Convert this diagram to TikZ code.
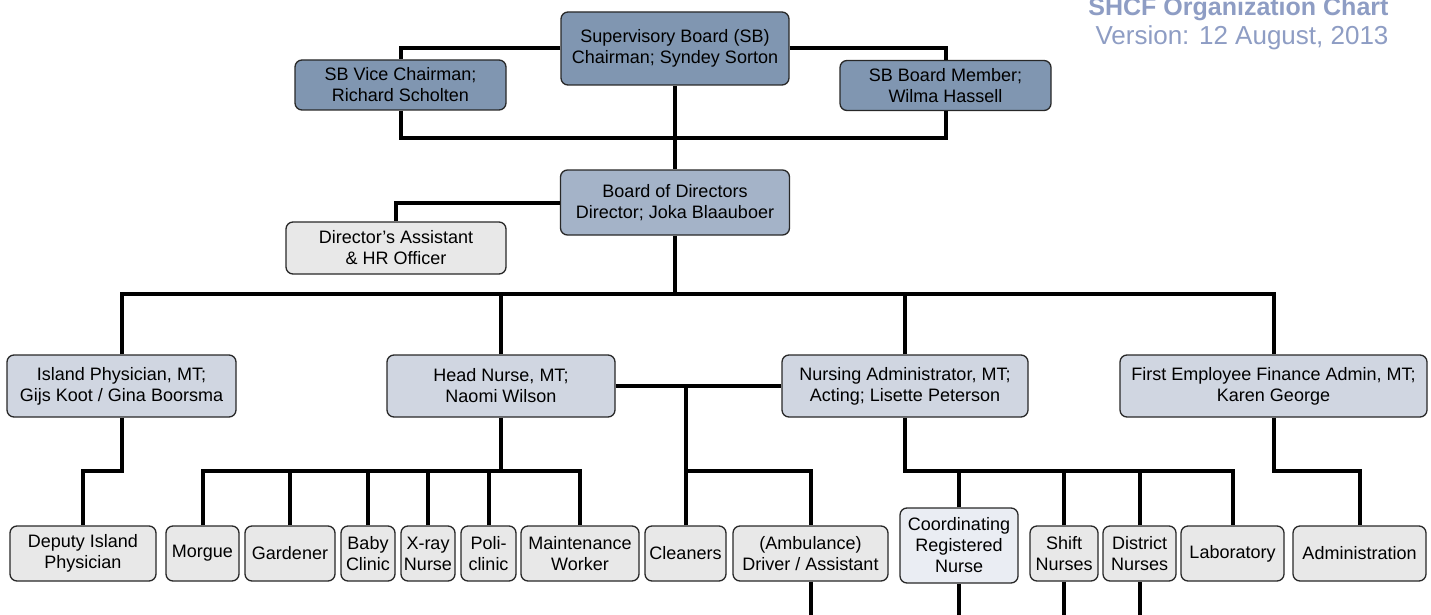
\documentclass[tikz,border=0pt]{standalone}
\usepackage{fontspec}
\setmainfont{Liberation Sans}
\usepackage{tikz}

\definecolor{sbblue}{RGB}{128,150,177}
\definecolor{bodblue}{RGB}{164,179,200}
\definecolor{mtblue}{RGB}{208,214,225}
\definecolor{staffgray}{RGB}{232,232,232}
\definecolor{coordblue}{RGB}{234,237,243}
\definecolor{titleblue}{RGB}{142,157,196}
\definecolor{boxline}{RGB}{40,40,40}

\begin{document}
\begin{tikzpicture}[x=1pt, y=-1pt,
		box/.style={draw=boxline, line width=1.3pt, rounded corners=7pt, inner sep=0pt, align=center, font=\fontsize{18}{21}\selectfont},
		sbbox/.style={box, fill=sbblue},
		bodbox/.style={box, fill=bodblue},
		mtbox/.style={box, fill=mtblue},
		staffbox/.style={box, fill=staffgray},
		coordbox/.style={box, fill=coordblue},
		link/.style={line width=4pt, line join=miter}]
		\clip (0, 0) rectangle (1431, 615);
		\fill[white] (0, 0) rectangle (1431, 615);

		\node[anchor=base east, text=titleblue, font=\bfseries\fontsize{25}{25}\selectfont] (title) at (1392, 15.5) {SHCF Organization Chart};
		\node[anchor=base east, text=titleblue, font=\fontsize{26}{26}\selectfont] (version) at (1392, 44.5) {Version: 12 August, 2013};

		\node[sbbox, minimum width=228, minimum height=73] (sb) at (675, 48.5) {Supervisory Board (SB)\\Chairman; Syndey Sorton};
		\node[sbbox, minimum width=211, minimum height=50] (vice) at (400.5, 85) {SB Vice Chairman;\\Richard Scholten};
		\node[sbbox, minimum width=211, minimum height=50] (member) at (945.5, 85.5) {SB Board Member;\\Wilma Hassell};

		\node[bodbox, minimum width=229, minimum height=65] (bod) at (675, 202.5) {Board of Directors\\Director; Joka Blaauboer};
		\node[staffbox, minimum width=220, minimum height=52] (assist) at (396, 248) {Director's Assistant\\\& HR Officer};

		\node[mtbox, minimum width=229, minimum height=62] (phys) at (121.5, 386) {Island Physician, MT;\\Gijs Koot / Gina Boorsma};
		\node[mtbox, minimum width=228, minimum height=62] (head) at (501, 386) {Head Nurse, MT;\\Naomi Wilson};
		\node[mtbox, minimum width=246, minimum height=62] (nadmin) at (905, 386) {Nursing Administrator, MT;\\Acting; Lisette Peterson};
		\node[mtbox, minimum width=307, minimum height=62] (fin) at (1273.5, 386) {First Employee Finance Admin, MT;\\Karen George};

		\node[staffbox, minimum width=146, minimum height=55] (deputy) at (83, 553.5) {Deputy Island\\Physician};
		\node[staffbox, minimum width=73, minimum height=55] (morgue) at (202.5, 553.5) {Morgue};
		\node[staffbox, minimum width=90, minimum height=55] (garden) at (290, 553.5) {Gardener};
		\node[staffbox, minimum width=54, minimum height=55] (baby) at (368, 553.5) {Baby\\Clinic};
		\node[staffbox, minimum width=54, minimum height=55] (xray) at (428, 553.5) {X-ray\\Nurse};
		\node[staffbox, minimum width=55, minimum height=55] (poli) at (488.5, 553.5) {Poli-\\clinic};
		\node[staffbox, minimum width=118, minimum height=55] (maint) at (580, 553.5) {Maintenance\\Worker};
		\node[staffbox, minimum width=81, minimum height=55] (clean) at (685.5, 553.5) {Cleaners};
		\node[staffbox, minimum width=155, minimum height=55] (amb) at (810.5, 553.5) {(Ambulance)\\Driver / Assistant};
		\node[coordbox, minimum width=118, minimum height=75] (coord) at (959, 545.5) {Coordinating\\Registered\\Nurse};
		\node[staffbox, minimum width=68, minimum height=55] (shift) at (1064, 553.5) {Shift\\Nurses};
		\node[staffbox, minimum width=73, minimum height=55] (district) at (1139.5, 553.5) {District\\Nurses};
		\node[staffbox, minimum width=103, minimum height=55] (lab) at (1232.5, 553.5) {Laboratory};
		\node[staffbox, minimum width=133, minimum height=55] (admin) at (1359.5, 553.5) {Administration};

		\coordinate (sbjoin) at (675, 138);
		\coordinate (bus) at (675, 294);
		\coordinate (lowbus) at (0, 471);
		\coordinate (cut) at (0, 616.5);

		\draw[link] (sb.west) -| (vice.north);
		\draw[link] (sb.east) -| (member.north);
		\draw[link] (vice.south) |- (sbjoin) -| (member.south);
		\draw[link] (sb.south) -- (bod.north);
		\draw[link] (bod.west) -| (assist.north);
		\draw[link] (bod.south) -- (bus);
		\draw[link] (phys.north) |- (bus) -| (fin.north);
		\draw[link] (head.north) -- (head.north |- bus);
		\draw[link] (nadmin.north) -- (nadmin.north |- bus);
		\draw[link] (head.east) -- (nadmin.west);

		\draw[link] (phys.south) |- (lowbus -| deputy.north) -- (deputy.north);
		\draw[link] (head.south) -- (head.south |- lowbus);
		\draw[link] (morgue.north) |- (lowbus -| maint.north) -- (maint.north);
		\draw[link] (garden.north) -- (garden.north |- lowbus);
		\draw[link] (baby.north) -- (baby.north |- lowbus);
		\draw[link] (xray.north) -- (xray.north |- lowbus);
		\draw[link] (poli.north) -- (poli.north |- lowbus);
		\draw[link] (clean.north) -- (clean.north |- head.east);
		\draw[link] (amb.north) |- (lowbus -| clean.north);
		\draw[link] (nadmin.south) |- (lowbus -| lab.north) -- (lab.north);
		\draw[link] (coord.north) -- (coord.north |- lowbus);
		\draw[link] (shift.north) -- (shift.north |- lowbus);
		\draw[link] (district.north) -- (district.north |- lowbus);
		\draw[link] (fin.south) |- (lowbus -| admin.north) -- (admin.north);

		\draw[link] (amb.south) |- (cut -| coord.south) -- (coord.south);
		\draw[link] (shift.south) |- (cut -| district.south) -- (district.south);
	\end{tikzpicture}
\end{document}
